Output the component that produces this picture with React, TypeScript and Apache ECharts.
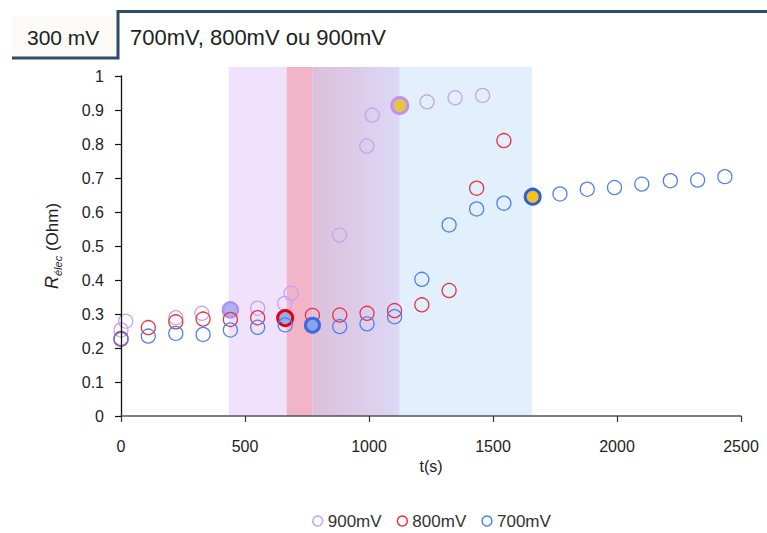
import React, { useEffect, useRef } from 'react';
import * as echarts from 'echarts';

// 900 mV series
const t900 = [0, 19, 221, 326, 441, 551, 660, 686, 881, 991, 1013, 1124, 1234, 1347, 1458];
const r900 = [0.253, 0.279, 0.289, 0.302, 0.312, 0.317, 0.331, 0.361, 0.532, 0.794, 0.885, 0.913, 0.924, 0.936, 0.943];
// 800 mV series
const t800 = [0, 110, 221, 331, 441, 551, 662, 772, 882, 992, 1103, 1213, 1323, 1434, 1544];
const r800 = [0.228, 0.260, 0.277, 0.285, 0.284, 0.289, 0.288, 0.296, 0.297, 0.302, 0.310, 0.327, 0.369, 0.670, 0.810];
// 700 mV series
const t700 = [0, 110, 221, 331, 441, 551, 662, 772, 882, 992, 1103, 1213, 1323, 1434, 1544, 1660, 1770, 1880, 1990, 2100, 2215, 2325, 2435];
const r700 = [0.225, 0.235, 0.243, 0.240, 0.253, 0.261, 0.268, 0.267, 0.263, 0.271, 0.292, 0.402, 0.562, 0.609, 0.626, 0.645, 0.653, 0.667, 0.672, 0.682, 0.692, 0.694, 0.704];

// highlighted point indices
const hl900 = [4, 11];
const hl800 = [6];
const hl700 = [7, 15];

// shaded time bands
const bandStart = [434, 668, 771, 1124];
const bandEnd = [668, 771, 1124, 1657];

const seriesNames = ['900mV', '800mV', '700mV'];
const headerLeft = '300 mV';
const headerRight = '700mV, 800mV ou 900mV';

const xMin = 0, xMax = 2500, xStep = 500;
const yMin = 0, yMax = 1, yStep = 0.1;

const COLORS = ['#c6a2f6', '#e8343e', '#4f80f2'];
const HL_STYLE: Record<string, any> = {
  '0-4': { color: '#aab2f2', borderColor: '#b78ff0', borderWidth: 2.5, size: 15 },
  '0-11': { color: '#e4c34a', borderColor: '#c28ff2', borderWidth: 3, size: 16 },
  '1-6': { color: '#8fb0ea', borderColor: '#e8000a', borderWidth: 3, size: 15 },
  '2-7': { color: '#8aa6e6', borderColor: '#3a6ae8', borderWidth: 3, size: 14 },
  '2-15': { color: '#f2c21a', borderColor: '#2c5ee2', borderWidth: 3, size: 15 },
};
const BAND_COLORS: any[] = [
  '#f0e2fc',
  '#f2b4c8',
  {
    type: 'linear', x: 0, y: 0, x2: 1, y2: 0,
    colorStops: [
      { offset: 0, color: '#dcc0dc' },
      { offset: 0.5, color: '#dccbe8' },
      { offset: 1, color: '#dcd8f6' },
    ],
  },
  '#e2f0fe',
];

const FONT = '"Liberation Sans", Arial, sans-serif';

function buildData(ts: number[], rs: number[], hl: number[], si: number) {
  return ts.map((t, i) => {
    if (hl.indexOf(i) >= 0) {
      const s = HL_STYLE[si + '-' + i];
      return {
        value: [t, rs[i]],
        symbolSize: s.size,
        itemStyle: { color: s.color, borderColor: s.borderColor, borderWidth: s.borderWidth },
        z: 5,
      };
    }
    return { value: [t, rs[i]] };
  });
}

export default function App() {
  const ref = useRef<HTMLDivElement>(null);
  useEffect(() => {
    if (!ref.current) return;
    const chart = echarts.init(ref.current, undefined, { renderer: 'svg' });
    const all = [
      [t900, r900, hl900],
      [t800, r800, hl800],
      [t700, r700, hl700],
    ] as any[];
    const bandTopExtra = 9 / 340;
    const option: any = {
      animation: false,
      backgroundColor: '#ffffff',
      textStyle: { fontFamily: FONT },
      grid: [
        { left: 121, right: 26, top: 76, bottom: 117, containLabel: false },
        { left: 121, right: 26, top: 67, bottom: 117, containLabel: false },
      ],
      xAxis: [
        {
          type: 'value', gridIndex: 0, min: xMin, max: xMax, interval: xStep,
          name: 't(s)', nameLocation: 'middle', nameGap: 42,
          nameTextStyle: { fontSize: 16, color: '#222', fontFamily: FONT },
          axisLine: { show: true, lineStyle: { color: '#555', width: 1.5 } },
          axisTick: { show: true, inside: false, length: 6, lineStyle: { color: '#333', width: 1.2 } },
          axisLabel: { fontSize: 16, color: '#222', margin: 22, fontFamily: FONT, formatter: (v: number) => String(v) },
          splitLine: { show: false },
          z: 10,
        },
        {
          type: 'value', gridIndex: 1, min: xMin, max: xMax, show: false,
        },
      ],
      yAxis: [
        {
          type: 'value', gridIndex: 0, min: yMin, max: yMax, interval: yStep,
          name: '{R|R}{s|élec} (Ohm)', nameLocation: 'middle', nameGap: 58,
          nameTextStyle: {
            fontSize: 17, color: '#222', fontFamily: FONT,
            rich: {
              R: { fontStyle: 'italic', fontSize: 18, color: '#222', lineHeight: 22, fontFamily: FONT },
              s: { fontStyle: 'italic', fontSize: 11, color: '#222', verticalAlign: 'bottom', lineHeight: 22, fontFamily: FONT },
            },
          },
          axisLine: { show: true, lineStyle: { color: '#111', width: 1.3 } },
          axisTick: { show: true, inside: false, length: 6, lineStyle: { color: '#111', width: 1.2 } },
          axisLabel: { fontSize: 16, color: '#222', margin: 17, fontFamily: FONT, formatter: (v: number) => String(Math.round(v * 10) / 10) },
          splitLine: { show: false },
          z: 10,
        },
        {
          type: 'value', gridIndex: 1, min: yMin, max: yMax + bandTopExtra, show: false,
        },
      ],
      legend: {
        show: true,
        left: 312,
        top: 512,
        padding: 0,
        itemWidth: 10,
        itemHeight: 10,
        itemGap: 15,
        icon: 'circle',
        textStyle: { fontSize: 17, lineHeight: 18, color: '#333', fontFamily: FONT },
        data: seriesNames.map((n, i) => ({
          name: n,
          icon: 'circle',
          itemStyle: { color: 'rgba(0,0,0,0)', borderColor: COLORS[i], borderWidth: 1.5 },
        })),
      },
      series: [
        {
          type: 'scatter',
          name: 'bands',
          xAxisIndex: 1,
          yAxisIndex: 1,
          data: [],
          z: 1,
          silent: true,
          markArea: {
            silent: true,
            data: bandStart.map((s, i) => [
              { xAxis: s, yAxis: yMin, itemStyle: { color: BAND_COLORS[i], opacity: 1 } },
              { xAxis: bandEnd[i], yAxis: yMax + bandTopExtra },
            ]),
          },
        },
        ...all.map((a, si) => ({
          type: 'scatter',
          name: seriesNames[si],
          xAxisIndex: 0,
          yAxisIndex: 0,
          symbol: 'circle',
          symbolSize: 14,
          z: 4 + si,
          itemStyle: { color: 'rgba(0,0,0,0)', borderColor: COLORS[si], borderWidth: 1.3, opacity: 1 },
          emphasis: { disabled: true },
          data: buildData(a[0], a[1], a[2], si),
        })),
      ],
      graphic: [
        {
          type: 'rect', silent: true, z: 0,
          shape: { x: 12, y: 16, width: 106, height: 41 },
          style: { fill: '#fcfbf7' },
        },
        {
          type: 'polyline', silent: true, z: 2,
          shape: { points: [[12, 58], [118, 58], [118, 11.5], [767, 11.5]] },
          style: { stroke: '#2f4b6b', lineWidth: 3, fill: 'none' },
        },
        {
          type: 'text', silent: true, z: 3, x: 27, y: 37,
          style: { text: headerLeft, fontSize: 21, fill: '#222', font: '21px ' + FONT, verticalAlign: 'middle', align: 'left' },
        },
        {
          type: 'text', silent: true, z: 3, x: 130, y: 37,
          style: { text: headerRight, fontSize: 22, fill: '#222', font: '22px ' + FONT, verticalAlign: 'middle', align: 'left' },
        },
      ],
    };
    chart.setOption(option);
    return () => chart.dispose();
  }, []);
  return (
    <div
      ref={ref}
      style={{ position: 'fixed', left: 0, top: 0, width: 767, height: 533, background: '#fff' }}
    />
  );
}
